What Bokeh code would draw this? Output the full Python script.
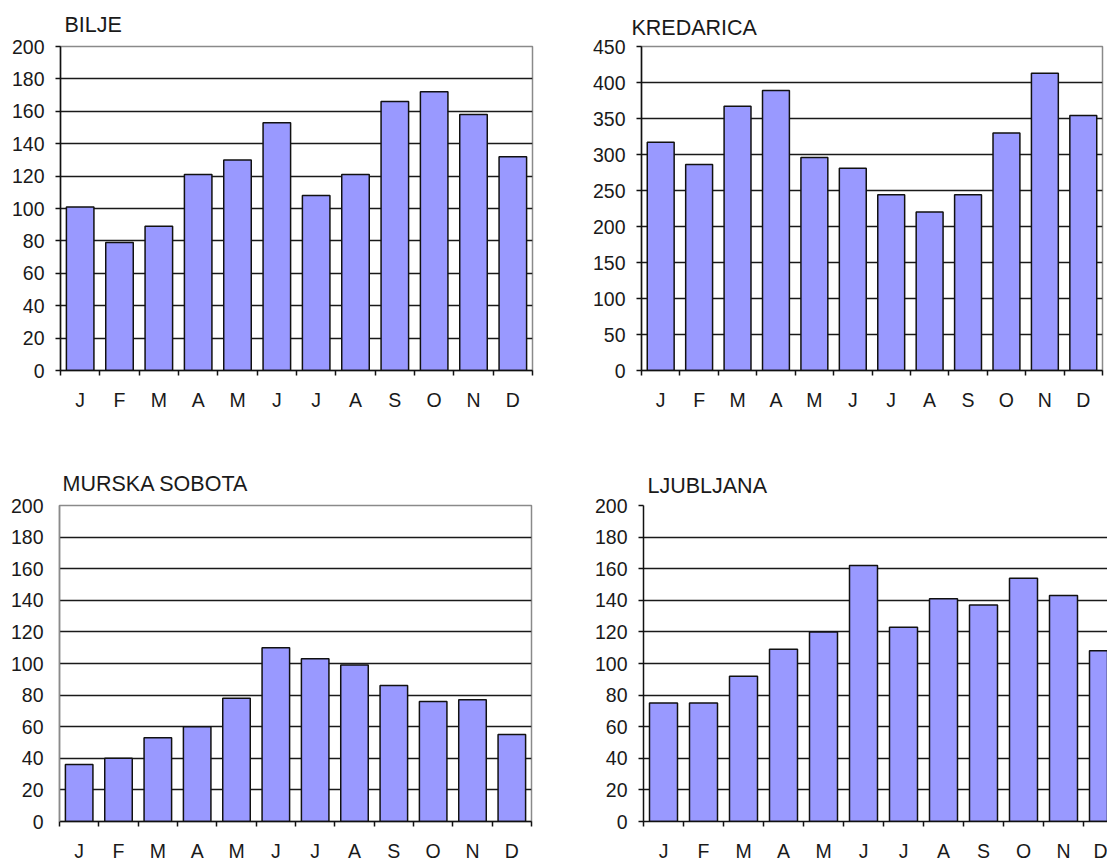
from bokeh.plotting import figure
from bokeh.layouts import column, row
from bokeh.models import Range1d, FixedTicker
from bokeh.embed import file_html
from bokeh.resources import INLINE

months = ["J", "F", "M", "A", "M", "J", "J", "A", "S", "O", "N", "D"]
month_pos = [1, 2, 3, 4, 5, 6, 7, 8, 9, 10, 11, 12]
bilje = [101, 79, 89, 121, 130, 153, 108, 121, 166, 172, 158, 132]
kredarica = [317, 286, 367, 389, 296, 281, 244, 220, 244, 330, 413, 354]
murska_sobota = [36, 40, 53, 60, 78, 110, 103, 99, 86, 76, 77, 55]
ljubljana = [75, 75, 92, 109, 120, 162, 123, 141, 137, 154, 143, 108]

y_ticks_200 = [0, 20, 40, 60, 80, 100, 120, 140, 160, 180, 200]
y_ticks_450 = [0, 50, 100, 150, 200, 250, 300, 350, 400, 450]

FONT = "Liberation Sans"
TXT = "#1a1a1a"


def make(title, vals, yticks, width, height, left, right, top, bottom,
         x_end=12.5, title_offset=0, title_standoff=10, y_axis_plain=False):
    p = figure(width=width, height=height, output_backend="svg",
               toolbar_location=None, tools="",
               x_range=Range1d(0.5, x_end), y_range=Range1d(0, yticks[-1]),
               min_border_left=left, min_border_right=right,
               min_border_top=top, min_border_bottom=bottom)
    p.title.text = title
    p.title.text_font = FONT
    p.title.text_font_size = "21.5px"
    p.title.text_font_style = "normal"
    p.title.text_color = TXT
    p.title.align = "left"
    p.title.offset = title_offset
    p.title.standoff = title_standoff
    p.background_fill_color = "white"
    p.border_fill_color = "white"
    p.outline_line_color = "#8a8a8a"
    p.outline_line_width = 1.5

    # bars
    p.vbar(x=month_pos, top=vals, width=0.7, bottom=0,
           fill_color="#9999FF", line_color="#111111", line_width=1.5)

    # x axis: labels at centres, small ticks at category boundaries
    xa = p.xaxis[0]
    xa.ticker = FixedTicker(ticks=month_pos,
                            minor_ticks=[m - 0.5 for m in month_pos] + [12.5])
    xa.major_label_overrides = {m: lab for m, lab in zip(month_pos, months)}
    xa.major_tick_line_color = None
    xa.major_tick_out = 0
    xa.major_tick_in = 0
    xa.minor_tick_line_color = "#111111"
    xa.minor_tick_line_width = 1.5
    xa.minor_tick_out = 5
    xa.minor_tick_in = 0
    xa.axis_line_color = "#111111"
    xa.axis_line_width = 1.5
    xa.major_label_text_font = FONT
    xa.major_label_text_font_size = "19.5px"
    xa.major_label_text_color = TXT
    xa.major_label_standoff = 13

    ya = p.yaxis[0]
    ya.ticker = FixedTicker(ticks=yticks)
    ya.minor_tick_line_color = None
    ya.major_tick_in = 0
    ya.major_tick_out = 5
    ya.major_tick_line_width = 1.5
    ya.axis_line_width = 1.5
    if y_axis_plain:
        ya.axis_line_color = "#8a8a8a"
        ya.major_tick_line_color = None
    else:
        ya.axis_line_color = "#111111"
        ya.major_tick_line_color = "#111111"
    ya.major_label_text_font = FONT
    ya.major_label_text_font_size = "19.5px"
    ya.major_label_text_color = TXT
    ya.major_label_standoff = 11

    p.xgrid.visible = False
    p.ygrid.ticker = FixedTicker(ticks=yticks[1:-1])
    p.ygrid.grid_line_color = "#1a1a1a"
    p.ygrid.grid_line_width = 1.3
    return p


p1 = make("BILJE", bilje, y_ticks_200, 560, 460, 60, 28, 44, 90,
          title_offset=4, title_standoff=20)
p2 = make("KREDARICA", kredarica, y_ticks_450, 547, 460, 81, 5, 46, 80,
          title_offset=-10, title_standoff=14)
p3 = make("MURSKA SOBOTA", murska_sobota, y_ticks_200, 560, 404, 59, 29, 45, 41,
          title_offset=3, title_standoff=19, y_axis_plain=True)
p4 = make("LJUBLJANA", ljubljana, y_ticks_200, 547, 404, 83, 0, 42, 36,
          x_end=12.1, title_offset=4, title_standoff=15)
p4.outline_line_color = None

layout = column(row(p1, p2, spacing=0), row(p3, p4, spacing=0), spacing=0)

open("out.html", "w").write(file_html(layout, INLINE))
